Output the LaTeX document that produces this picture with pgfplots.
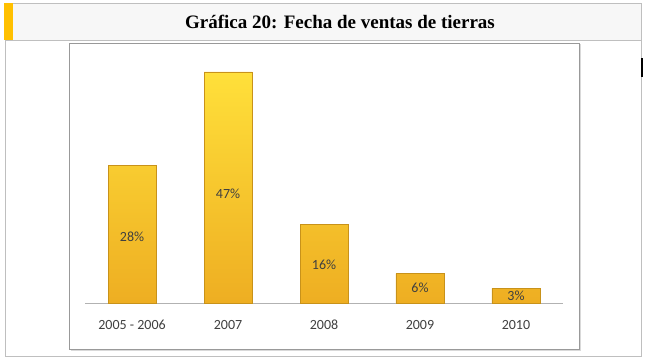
\documentclass[border=0pt]{standalone}
\usepackage{pgfplots}
\pgfplotsset{compat=1.18}
\usepackage{fontspec}
\setmainfont{Carlito}
\newfontfamily\titlefont{Liberation Serif}
\definecolor{barTop}{HTML}{FFE03A}
\definecolor{barBot}{HTML}{EEAE22}
\definecolor{barEdge}{HTML}{C8921A}
\definecolor{stripe}{HTML}{FFC000}
\definecolor{txt}{HTML}{404040}
\begin{document}
\begin{tikzpicture}[x=1pt,y=1pt]
% outer frame and title band
\fill[white] (0,0) rectangle (645,361);
\fill[black!3] (5,358) rectangle (641,321);
\draw[black!25, line width=0.8pt] (5,358) rectangle (641,5);
\draw[black!25, line width=0.8pt] (5,321) -- (641,321);
\fill[stripe] (4,358) rectangle (13,321);
\node[font=\titlefont\bfseries\fontsize{19}{22}\selectfont] at (340,339) {Gráfica 20: Fecha de ventas de tierras};
% inner chart frame
\draw[black!40, line width=0.8pt] (69,318) rectangle (579,12);
\draw[black!15, line width=0.8pt] (70.5,11) -- (580,11) -- (580,317);
\fill[black] (641,284) rectangle (643,303);
\begin{axis}[
  at={(85pt,58pt)}, anchor=south west,
  scale only axis, width=478pt, height=250pt,
  xmin=-0.49, xmax=4.49, ymin=0, ymax=50.86,
  axis x line=bottom, axis y line=none,
  x axis line style={-, draw=black!30, line width=0.8pt},
  xtick=data,
  xticklabels={2005 - 2006,2007,2008,2009,2010},
  major tick length=0pt,
  xticklabel style={font=\fontsize{14}{16}\selectfont, text=txt, anchor=base, yshift=-27pt},
  ytick=\empty,
  clip=false,
]
\addplot[ybar, bar width=48pt, top color=barTop, bottom color=barBot, draw=barEdge, line width=0.7pt]
  coordinates {(0,28) (1,47) (2,16) (3,6) (4,3)};
\addplot[draw=none, mark=none, only marks, mark size=0pt,
  point meta=explicit symbolic,
  nodes near coords={\pgfplotspointmeta\%},
  every node near coord/.append style={anchor=center, font=\fontsize{14}{16}\selectfont, text=txt}]
  coordinates {(0,13.5)[28] (1,22.3)[47] (2,7.8)[16] (3,3.0)[6] (4,1.5)[3]};
\end{axis}
\pgfresetboundingbox
\path[use as bounding box] (0,0) rectangle (645,361);
\end{tikzpicture}
\end{document}
